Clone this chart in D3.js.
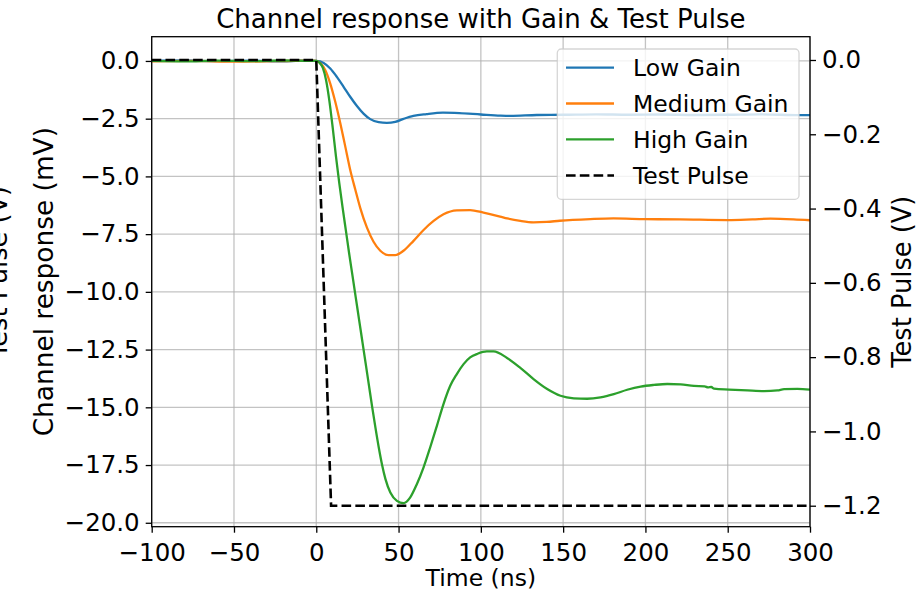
<!DOCTYPE html>
<html>
<head>
<meta charset="utf-8">
<script src="https://cdn.jsdelivr.net/npm/d3@7"></script>
<style>
  html, body { margin: 0; padding: 0; background: #ffffff; }
  svg { display: block; font-family: "DejaVu Sans", sans-serif; }
</style>
</head>
<body>
<svg id="chart" width="918" height="595"></svg>
<script>
// ---------------- data ----------------
const seriesNames = ["Low Gain", "Medium Gain", "High Gain", "Test Pulse"];
const seriesColors = ["#1f77b4", "#ff7f0e", "#2ca02c", "#000000"];

const lowGainTime = [-100, -80, -60, -40, -20, -10, 0, 4.5, 8.5, 12.5, 16.6, 20.6, 24.7, 28.7, 32.8, 37.9, 42.9, 48, 53, 59, 67, 77, 87, 100, 112, 118, 134, 150, 170, 190, 210, 230, 250, 270, 294, 300];
const lowGainValues = [0.0, 0.02, -0.01, 0.01, -0.02, 0.01, 0.0, -0.09, -0.33, -0.69, -1.12, -1.55, -1.95, -2.28, -2.52, -2.65, -2.68, -2.64, -2.51, -2.38, -2.30, -2.24, -2.26, -2.32, -2.37, -2.38, -2.34, -2.33, -2.31, -2.33, -2.32, -2.34, -2.33, -2.31, -2.35, -2.35];

const mediumGainTime = [-100, -75, -50, -25, -5, 0, 2.4, 5.5, 8.5, 11.5, 14.6, 17.6, 20.6, 23.7, 26.7, 30.8, 34.8, 38.9, 43.9, 48, 53, 59.1, 65.2, 71.3, 77.3, 85.4, 93.5, 101.6, 111.7, 116, 124, 132, 140, 148, 166.5, 180.6, 200, 221, 250, 265, 276, 290, 300];
const mediumGainValues = [-0.02, 0.0, -0.03, -0.01, 0.01, 0.0, -0.09, -0.40, -0.98, -1.76, -2.70, -3.70, -4.71, -5.57, -6.36, -7.22, -7.83, -8.22, -8.41, -8.41, -8.22, -7.79, -7.32, -6.93, -6.64, -6.47, -6.46, -6.57, -6.74, -6.82, -6.93, -6.99, -6.97, -6.92, -6.85, -6.82, -6.85, -6.86, -6.89, -6.86, -6.83, -6.86, -6.90];

const highGainTime = [-100, -80, -60, -40, -20, -5, 0, 2, 4, 6, 8, 10, 12, 14, 16, 18, 20, 22, 24, 26, 28, 30, 32, 34, 36, 38, 40, 42, 45, 49, 53, 57.1, 61.1, 65.2, 69.2, 73.3, 77.3, 81.4, 85.4, 89.5, 93.5, 98, 103.6, 107.7, 115.9, 124, 132.2, 140.3, 148.4, 156.5, 164.6, 172.7, 180.8, 188.9, 197.1, 205.2, 213.3, 221.4, 229.5, 236, 238, 240, 241.7, 250.8, 261.9, 272.1, 280.2, 284.3, 292.4, 300];
const highGainValues = [0.0, -0.02, 0.01, -0.01, 0.02, 0.0, 0.0, -0.08, -0.30, -0.85, -1.75, -2.90, -4.15, -5.30, -6.35, -7.35, -8.35, -9.30, -10.25, -11.20, -12.15, -13.10, -14.05, -15.00, -15.90, -16.75, -17.50, -18.10, -18.69, -19.05, -19.15, -18.90, -18.33, -17.60, -16.74, -15.80, -14.86, -14.07, -13.56, -13.13, -12.84, -12.68, -12.58, -12.58, -12.86, -13.29, -13.79, -14.21, -14.50, -14.61, -14.63, -14.57, -14.43, -14.24, -14.10, -14.03, -13.99, -14.01, -14.07, -14.09, -14.14, -14.12, -14.19, -14.23, -14.27, -14.30, -14.27, -14.21, -14.20, -14.23];

const testPulseTime = [-100, 0, 9, 300];
const testPulseValues = [0.0, 0.0, -1.2, -1.2];

const xTicks = [-100, -50, 0, 50, 100, 150, 200, 250, 300];
const leftTicks = [0.0, -2.5, -5.0, -7.5, -10.0, -12.5, -15.0, -17.5, -20.0];
const rightTicks = [0.0, -0.2, -0.4, -0.6, -0.8, -1.0, -1.2];

const titleText = "Channel response with Gain & Test Pulse";
const xLabel = "Time (ns)";
const leftLabel = "Channel response (mV)";
const rightLabel = "Test Pulse (V)";

// ---------------- layout ----------------
const plot = { left: 151.7, right: 810, top: 36.7, bottom: 526.7 };
const svg = d3.select("#chart");

const x = d3.scaleLinear().domain([-100, 300]).range([plot.left, plot.right]);
const yL = d3.scaleLinear().domain([-20.17, 1.05]).range([plot.bottom, plot.top]);
const yR = d3.scaleLinear().domain([-1.2565, 0.0627]).range([plot.bottom, plot.top]);

svg.append("defs").append("clipPath").attr("id", "clip")
  .append("rect")
  .attr("x", plot.left).attr("y", plot.top)
  .attr("width", plot.right - plot.left).attr("height", plot.bottom - plot.top);

// grid
const grid = svg.append("g");
grid.selectAll(".gx").data(xTicks).enter().append("line")
  .attr("x1", d => x(d)).attr("x2", d => x(d))
  .attr("y1", plot.top).attr("y2", plot.bottom)
  .attr("stroke", "#b0b0b0").attr("stroke-width", 1.3).attr("opacity", 0.75);
grid.selectAll(".gy").data(leftTicks).enter().append("line")
  .attr("x1", plot.left).attr("x2", plot.right)
  .attr("y1", d => yL(d)).attr("y2", d => yL(d))
  .attr("stroke", "#b0b0b0").attr("stroke-width", 1.3).attr("opacity", 0.75);

// lines
const lineL = d3.line().x(d => x(d[0])).y(d => yL(d[1])).curve(d3.curveMonotoneX);
const lineR = d3.line().x(d => x(d[0])).y(d => yR(d[1]));
const zip = (a, b) => a.map((t, i) => [t, b[i]]);

const lines = svg.append("g").attr("clip-path", "url(#clip)");
const gainSeries = [
  zip(lowGainTime, lowGainValues),
  zip(mediumGainTime, mediumGainValues),
  zip(highGainTime, highGainValues)
];
gainSeries.forEach((s, i) => {
  lines.append("path").datum(s)
    .attr("d", lineL)
    .attr("fill", "none")
    .attr("stroke", seriesColors[i])
    .attr("stroke-width", 2.3)
    .attr("stroke-linejoin", "round");
});
lines.append("path").datum(zip(testPulseTime, testPulseValues))
  .attr("d", lineR)
  .attr("fill", "none")
  .attr("stroke", seriesColors[3])
  .attr("stroke-width", 2.6)
  .attr("stroke-dasharray", "9.6,4.2");

// axes
const fmt1 = d3.format(".1f");
const axB = svg.append("g").attr("transform", `translate(0,${plot.bottom})`)
  .call(d3.axisBottom(x).tickValues(xTicks).tickFormat(d3.format("d")).tickSizeOuter(0).tickSize(6).tickPadding(6));
const axL = svg.append("g").attr("transform", `translate(${plot.left},0)`)
  .call(d3.axisLeft(yL).tickValues(leftTicks).tickFormat(fmt1).tickSizeOuter(0).tickSize(6).tickPadding(6));
const axR = svg.append("g").attr("transform", `translate(${plot.right},0)`)
  .call(d3.axisRight(yR).tickValues(rightTicks).tickFormat(fmt1).tickSizeOuter(0).tickSize(6).tickPadding(6));
[axB, axL, axR].forEach(a => {
  a.select(".domain").remove();
  a.selectAll("line").attr("stroke", "#000").attr("stroke-width", 1.3);
  a.selectAll("text").attr("font-family", "DejaVu Sans").attr("font-size", 24.5).attr("fill", "#000");
});
axB.selectAll("text").attr("dy", "0.9em");

// spines
svg.append("rect")
  .attr("x", plot.left).attr("y", plot.top)
  .attr("width", plot.right - plot.left).attr("height", plot.bottom - plot.top)
  .attr("fill", "none").attr("stroke", "#000").attr("stroke-width", 1.3);

// title and labels
svg.append("text").attr("x", (plot.left + plot.right) / 2).attr("y", 28)
  .attr("text-anchor", "middle").attr("font-size", 26).attr("fill", "#000").text(titleText);
svg.append("text").attr("x", (plot.left + plot.right) / 2).attr("y", 586)
  .attr("text-anchor", "middle").attr("font-size", 23.5).attr("fill", "#000").text(xLabel);
svg.append("text").attr("transform", `translate(53,${(plot.top + plot.bottom) / 2}) rotate(-90)`)
  .attr("text-anchor", "middle").attr("font-size", 26.4).attr("fill", "#000").text(leftLabel);
svg.append("text").attr("transform", `translate(6.5,272) rotate(-90)`)
  .attr("text-anchor", "middle").attr("font-size", 25.7).attr("fill", "#000").text(rightLabel);
svg.append("text").attr("transform", `translate(911,${(plot.top + plot.bottom) / 2}) rotate(-90)`)
  .attr("text-anchor", "middle").attr("font-size", 25.7).attr("fill", "#000").text(rightLabel);

// legend
const lg = svg.append("g");
const lgBox = { x: 557.3, y: 49, w: 241.7, h: 150.3 };
lg.append("rect")
  .attr("x", lgBox.x).attr("y", lgBox.y).attr("width", lgBox.w).attr("height", lgBox.h)
  .attr("rx", 4).attr("ry", 4)
  .attr("fill", "#ffffff").attr("fill-opacity", 0.8)
  .attr("stroke", "#cccccc").attr("stroke-opacity", 0.8).attr("stroke-width", 1.3);
const lgRowY = [67.7, 103.5, 139.3, 175.5];
seriesNames.forEach((name, i) => {
  const yy = lgRowY[i];
  lg.append("line")
    .attr("x1", 566).attr("x2", 614).attr("y1", yy).attr("y2", yy)
    .attr("stroke", seriesColors[i])
    .attr("stroke-width", i === 3 ? 2.6 : 2.3)
    .attr("stroke-dasharray", i === 3 ? "9.6,4.2" : null);
  lg.append("text").attr("x", 633).attr("y", yy).attr("dy", "0.36em")
    .attr("font-size", 23.5).attr("fill", "#000").text(name);
});
</script>
</body>
</html>
